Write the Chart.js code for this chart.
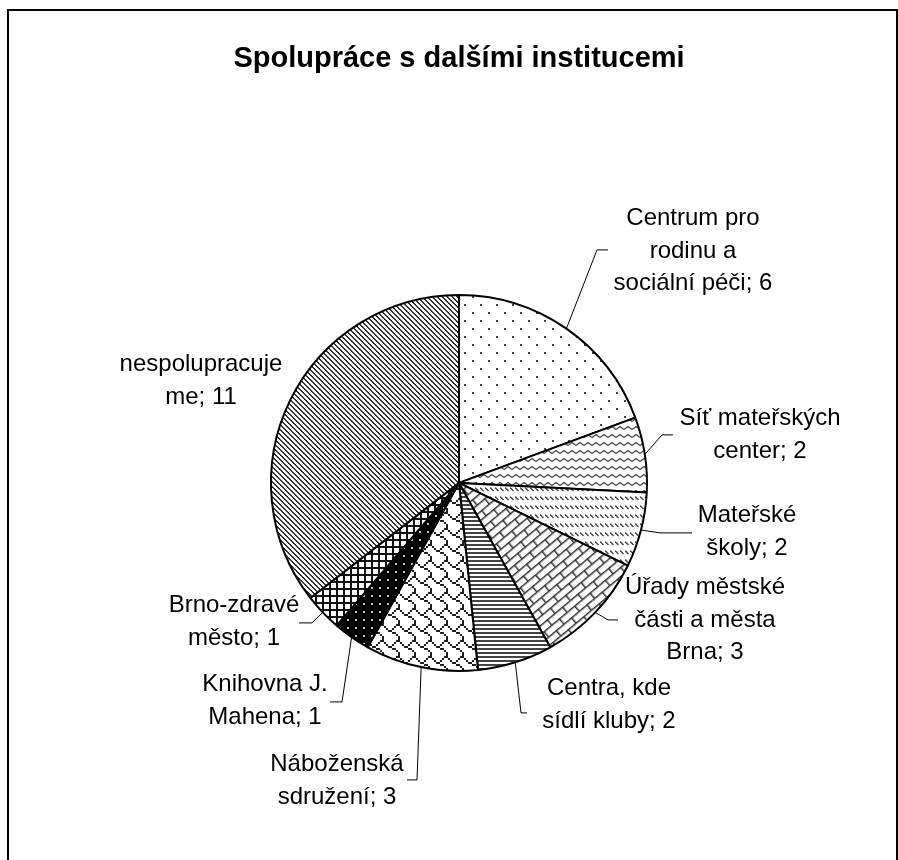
<!DOCTYPE html>
<html>
<head>
<meta charset="utf-8">
<script src="https://cdn.jsdelivr.net/npm/chart.js@4/dist/chart.umd.min.js"></script>
<style>
  html, body { margin: 0; padding: 0; background: #fff; }
  #wrap { position: relative; width: 898px; height: 860px; overflow: hidden; }
  #frame { position: absolute; left: 7px; top: 9px; width: 887px; height: 900px; border: 2px solid #000; box-sizing: content-box; pointer-events: none; }
  canvas { position: absolute; left: 0; top: 0; }
</style>
</head>
<body>
<div id="wrap">
  <canvas id="c" width="898" height="860"></canvas>
  <div id="frame"></div>
</div>
<script>
// ---- data ----
const chartTitle = 'Spolupráce s dalšími institucemi';
const categories = [
  'Centrum pro rodinu a sociální péči',
  'Síť mateřských center',
  'Mateřské školy',
  'Úřady městské části a města Brna',
  'Centra, kde sídlí kluby',
  'Náboženská sdružení',
  'Knihovna J. Mahena',
  'Brno-zdravé město',
  'nespolupracujeme'
];
const values = [6, 2, 2, 3, 2, 3, 1, 1, 11];

// ---- layout (label block centres and leader-line points, relative to pie centre) ----
const labelLayout = [
  { c: [234, -232], line: [[138, -233], [149, -233]] },
  { c: [301, -48],  line: [[203, -48], [214, -48]] },
  { c: [288, 49],   line: [[201, 50], [233, 50]] },
  { c: [246, 137],  line: [[149, 137], [159, 137]] },
  { c: [150, 222],  line: [[62, 230], [68, 230]] },
  { c: [-122, 298], line: [[-42, 297], [-52, 297]] },
  { c: [-194, 218], line: [[-117, 219], [-129, 219]] },
  { c: [-225, 139], line: [[-147, 140], [-160, 140]] },
  { c: [-258, -102], line: null }
];
const LABEL_FONT = '24px "Liberation Sans", Arial, sans-serif';
const LINE_H = 32.5;
const WRAP_W = 163;

// ---- fill patterns ----
const canvas = document.getElementById('c');
const ctx = canvas.getContext('2d');

function tile(w, h, bg, draw, matrix) {
  const c = document.createElement('canvas');
  c.width = w; c.height = h;
  const g = c.getContext('2d');
  g.fillStyle = bg; g.fillRect(0, 0, w, h);
  draw(g);
  const p = ctx.createPattern(c, 'repeat');
  if (matrix && p.setTransform) p.setTransform(matrix);
  return p;
}
function bits(rows, s, fg, bg) {
  return tile(8 * s, 8 * s, bg, g => {
    g.fillStyle = fg;
    rows.forEach((r, y) => {
      for (let x = 0; x < 8; x++) if (r & (0x80 >> x)) g.fillRect(x * s, y * s, s, s);
    });
  });
}

const patterns = [
  // dotted
  bits([0x80, 0, 0, 0, 0x08, 0, 0, 0], 2, '#444', '#fff'),
  // wave
  tile(8, 8, '#fff', g => {
    g.strokeStyle = '#444'; g.lineWidth = 1.4;
    g.beginPath(); g.moveTo(0, 5.5); g.lineTo(4, 2.5); g.lineTo(8, 5.5); g.stroke();
  }),
  // dashed downward diagonal
  tile(5, 9, '#fff', g => {
    g.strokeStyle = '#444'; g.lineWidth = 1.4;
    g.beginPath(); g.moveTo(0, 1.5); g.lineTo(3.5, 5); g.stroke();
  }),
  // diagonal brick (brick rows rotated -45deg)
  tile(20, 14, '#fff', g => {
    g.fillStyle = '#333';
    g.fillRect(0, 0, 20, 1.5);
    g.fillRect(0, 7, 20, 1.5);
    g.fillRect(0, 0, 1.5, 7);
    g.fillRect(10, 7, 1.5, 7);
  }, new DOMMatrix().rotate(-40)),
  // narrow horizontal
  tile(4, 4, '#fff', g => { g.fillStyle = '#444'; g.fillRect(0, 0, 4, 2); }),
  // shingle
  bits([0x03, 0x84, 0x48, 0x30, 0x0C, 0x02, 0x01, 0x01], 2, '#222', '#fff'),
  // black with white dots
  tile(8, 8, '#000', g => { g.fillStyle = '#bbb'; g.fillRect(3, 3, 2, 2); }),
  // small grid
  tile(7, 7, '#fff', g => { g.fillStyle = '#111'; g.fillRect(0, 0, 7, 2); g.fillRect(0, 0, 2, 7); }),
  // dark downward diagonal
  tile(5, 5, '#fff', g => {
    g.fillStyle = '#333';
    for (let y = 0; y < 5; y++) for (let x = 0; x < 5; x++) if ((((x - y) % 5) + 5) % 5 < 2) g.fillRect(x, y, 1, 1);
  })
];

function wrapText(c, text, maxW) {
  const words = text.split(' ');
  const lines = [];
  let cur = '';
  const pushWord = w => {
    while (c.measureText(w).width > maxW) {
      let k = w.length;
      while (k > 1 && c.measureText(w.slice(0, k)).width > maxW) k--;
      if (cur) { lines.push(cur); cur = ''; }
      lines.push(w.slice(0, k));
      w = w.slice(k);
    }
    return w;
  };
  words.forEach(w => {
    const test = cur ? cur + ' ' + w : w;
    if (c.measureText(test).width <= maxW) { cur = test; return; }
    if (cur) { lines.push(cur); cur = ''; }
    w = pushWord(w);
    cur = w;
  });
  if (cur) lines.push(cur);
  return lines;
}

const labelPlugin = {
  id: 'outsideLabels',
  afterDatasetsDraw(chart) {
    const c = chart.ctx;
    const meta = chart.getDatasetMeta(0);
    c.save();
    c.font = LABEL_FONT;
    c.fillStyle = '#000';
    c.textAlign = 'center';
    c.textBaseline = 'middle';
    meta.data.forEach((arc, i) => {
      const p = arc.getProps(['x', 'y', 'startAngle', 'endAngle', 'outerRadius'], true);
      const mid = (p.startAngle + p.endAngle) / 2;
      const L = labelLayout[i];
      if (L.line) {
        c.strokeStyle = '#000'; c.lineWidth = 1;
        c.beginPath();
        c.moveTo(p.x + Math.cos(mid) * p.outerRadius, p.y + Math.sin(mid) * p.outerRadius);
        L.line.forEach(q => c.lineTo(p.x + q[0], p.y + q[1]));
        c.stroke();
      }
      const text = chart.data.labels[i] + '; ' + chart.data.datasets[0].data[i];
      const lines = wrapText(c, text, WRAP_W);
      const cx = p.x + L.c[0];
      const cy = p.y + L.c[1] - (lines.length - 1) * LINE_H / 2;
      lines.forEach((ln, k) => c.fillText(ln, cx, cy + k * LINE_H));
    });
    c.restore();
  }
};

new Chart(ctx, {
  type: 'pie',
  data: {
    labels: categories,
    datasets: [{
      data: values,
      backgroundColor: patterns,
      borderColor: '#000',
      borderWidth: 2,
      radius: 188
    }]
  },
  options: {
    responsive: false,
    animation: false,
    events: [],
    layout: { padding: { left: 20, right: 0, top: 0, bottom: 0 } },
    plugins: {
      legend: { display: false },
      tooltip: { enabled: false },
      title: {
        display: true,
        text: chartTitle,
        color: '#000',
        font: { family: '"Liberation Sans", Arial, sans-serif', size: 29, weight: 'bold' },
        padding: { top: 42, bottom: 29 }
      }
    }
  },
  plugins: [labelPlugin]
});
</script>
</body>
</html>
